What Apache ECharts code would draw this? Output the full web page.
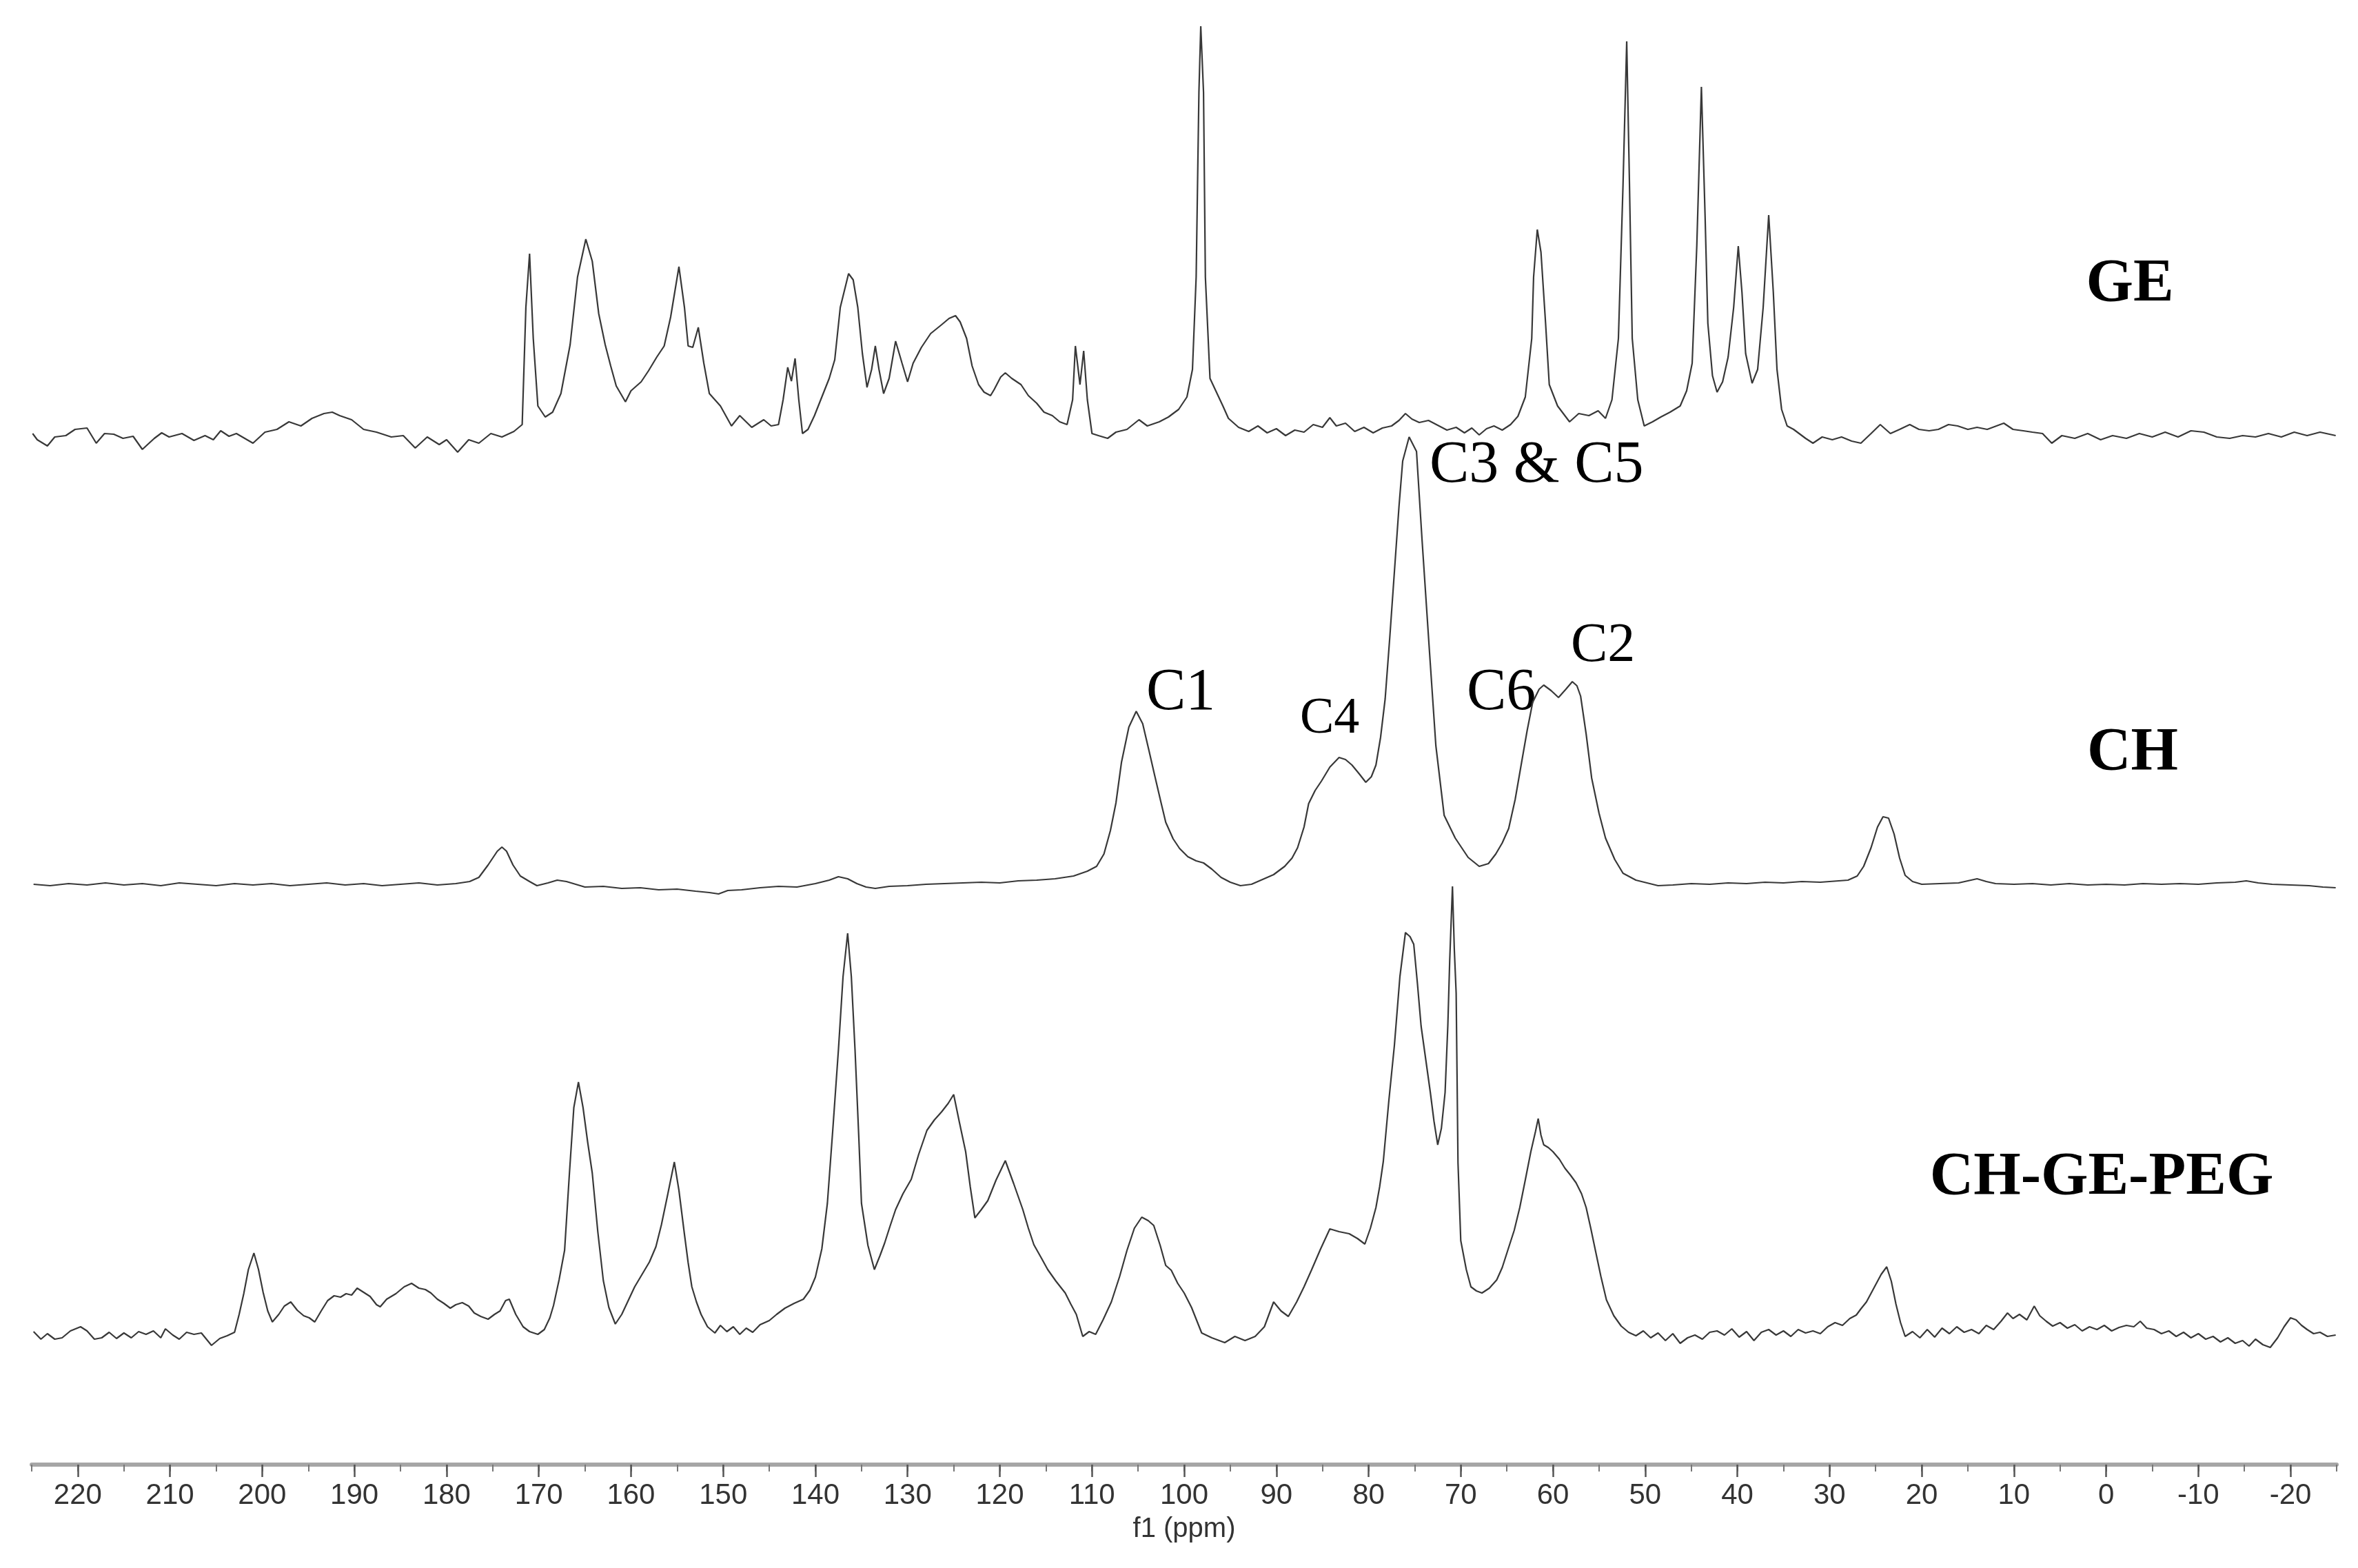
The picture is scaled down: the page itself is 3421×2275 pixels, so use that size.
<!DOCTYPE html>
<html>
<head>
<meta charset="utf-8">
<script src="https://cdn.jsdelivr.net/npm/echarts@6/dist/echarts.min.js"></script>
<style>
html,body{margin:0;padding:0;background:#ffffff;}
#chart{width:3421px;height:2275px;}
</style>
</head>
<body>
<div id="chart"></div>
<script>
// ---- Data: [chemical shift (ppm), intensity] ----
const GE = [[224.9,1],[224.4,-8],[223.3,-17],[222.5,-4],[221.3,-2],[220.3,7],[219.0,9],[218.0,-13],[217.1,1],[216.1,0],[215.1,-6],[214.0,-3],[213.0,-22],[211.7,-6],[210.9,2],[210.1,-4],[208.7,1],[207.4,-9],[206.2,-2],[205.3,-8],[204.5,5],[203.6,-3],[202.8,1],[201.0,-13],[199.7,3],[198.4,7],[197.1,18],[195.8,12],[194.6,23],[193.3,30],[192.4,32],[191.6,27],[190.3,21],[189.0,7],[187.6,3],[186.0,-4],[184.7,-2],[183.4,-20],[182.1,-4],[180.8,-15],[180.0,-8],[178.8,-26],[177.6,-8],[176.5,-13],[175.2,1],[174.0,-4],[172.7,4],[171.8,14],[171.4,184],[171.0,262],[170.6,139],[170.1,41],[169.3,25],[168.5,32],[167.6,59],[166.6,130],[165.8,228],[164.9,283],[164.2,251],[163.5,175],[162.8,130],[162.2,99],[161.6,70],[160.6,47],[160.0,63],[158.9,76],[158.1,92],[157.2,112],[156.4,128],[155.7,170],[154.8,243],[154.2,184],[153.8,128],[153.3,126],[152.7,155],[152.1,103],[151.5,59],[150.3,41],[149.1,12],[148.2,27],[146.9,10],[145.6,21],[144.8,12],[144.0,14],[143.5,50],[143.0,97],[142.6,77],[142.2,110],[141.8,50],[141.4,1],[140.8,7],[140.1,27],[139.3,54],[138.5,81],[137.9,108],[137.3,184],[136.4,233],[135.9,224],[135.4,184],[134.9,117],[134.4,68],[133.9,94],[133.5,128],[133.1,94],[132.6,59],[132.0,81],[131.3,135],[130.6,103],[130.0,76],[129.4,103],[128.5,126],[127.5,146],[126.3,159],[125.5,168],[124.8,172],[124.3,163],[123.6,139],[123.0,99],[122.3,72],[121.7,61],[121.0,56],[120.6,65],[119.9,83],[119.4,89],[118.7,81],[117.7,72],[116.9,56],[116.0,45],[115.2,32],[114.3,27],[113.5,18],[112.7,14],[112.1,50],[111.8,128],[111.3,72],[110.9,121],[110.5,50],[110.0,1],[109.3,-2],[108.3,-6],[107.4,3],[106.2,7],[104.9,21],[104.0,12],[102.7,18],[101.7,25],[100.6,36],[99.7,54],[99.1,94],[98.7,228],[98.4,496],[98.2,592],[97.9,496],[97.7,228],[97.2,81],[95.8,41],[95.2,23],[94.1,10],[93.0,4],[92.0,12],[91.0,2],[90.0,8],[89.0,-2],[88.0,6],[87.0,3],[86.0,14],[85.0,10],[84.2,24],[83.5,12],[82.5,16],[81.5,4],[80.5,10],[79.5,2],[78.5,9],[77.5,12],[76.7,20],[76.0,30],[75.3,22],[74.5,17],[73.5,20],[72.5,13],[71.5,6],[70.5,10],[69.6,2],[68.8,9],[68.0,-1],[67.2,8],[66.4,12],[65.5,6],[64.6,14],[63.8,26],[63.0,54],[62.3,139],[62.1,228],[61.7,297],[61.3,264],[60.8,161],[60.4,72],[59.5,41],[58.2,18],[57.2,30],[56.1,27],[55.1,34],[54.3,23],[53.6,50],[52.9,139],[52.4,362],[52.0,570],[51.7,362],[51.4,139],[50.8,50],[50.1,12],[49.2,18],[48.3,25],[47.3,32],[46.2,41],[45.5,63],[44.9,103],[44.4,273],[43.9,504],[43.5,317],[43.2,161],[42.7,85],[42.2,61],[41.6,76],[41.0,112],[40.4,184],[39.9,273],[39.5,206],[39.1,117],[38.4,74],[37.8,94],[37.2,184],[36.6,318],[36.1,206],[35.7,94],[35.2,36],[34.6,12],[33.9,7],[33.3,1],[32.6,-6],[31.8,-13],[30.8,-4],[29.7,-8],[28.7,-4],[27.6,-10],[26.6,-13],[25.5,1],[24.5,14],[23.4,1],[22.4,7],[21.3,14],[20.3,7],[19.2,5],[18.2,7],[17.1,14],[16.1,12],[15.0,7],[14.0,10],[12.9,7],[11.1,16],[10.1,7],[9.0,5],[8.0,3],[6.9,1],[5.9,-13],[4.8,-2],[3.4,-6],[2.0,1],[0.6,-8],[-0.7,-2],[-2.2,-6],[-3.6,1],[-5.0,-4],[-6.4,3],[-7.8,-4],[-9.2,5],[-10.6,3],[-12.0,-4],[-13.4,-6],[-14.8,-2],[-16.2,-4],[-17.6,1],[-19.0,-4],[-20.4,3],[-21.8,-2],[-23.2,3],[-24.9,-2]];

const CH = [[224.8,2],[223,0],[221,3],[219,1],[217,4],[215,1],[213,3],[211,0],[209,4],[207,2],[205,0],[203,3],[201,1],[199,3],[197,0],[195,2],[193,4],[191,1],[189,3],[187,0],[185,2],[183,4],[181,1],[179,3],[177.5,6],[176.5,12],[175.5,30],[174.5,50],[174.0,56],[173.5,50],[172.8,30],[172.0,14],[171.0,6],[170.2,0],[169,4],[168,8],[167,6],[166,2],[165,-2],[163,-1],[161,-4],[159,-3],[157,-6],[155,-5],[153,-8],[151.5,-10],[150.5,-12],[149.5,-7],[148,-6],[146,-3],[144,-1],[142,-2],[140,3],[138.5,8],[137.5,13],[136.5,10],[135.5,3],[134.5,-2],[133.5,-4],[132,-1],[130,0],[128,2],[126,3],[124,4],[122,5],[120,4],[118,7],[116,8],[114,10],[112,14],[110.5,21],[109.5,28],[108.7,46],[108.0,80],[107.4,120],[106.8,179],[106.0,230],[105.2,253],[104.5,235],[103.8,195],[103.2,160],[102.5,120],[102.0,92],[101.2,68],[100.5,54],[99.6,42],[98.7,36],[97.9,33],[97.0,24],[96.0,12],[95.0,5],[93.9,0],[92.7,2],[91.5,9],[90.3,16],[89.1,28],[88.3,40],[87.7,55],[87.0,85],[86.5,119],[85.8,138],[85.1,152],[84.2,172],[83.2,186],[82.5,183],[81.8,175],[81.0,162],[80.3,150],[79.7,158],[79.2,175],[78.7,215],[78.2,271],[77.7,360],[77.2,455],[76.7,550],[76.3,616],[75.6,651],[74.8,630],[74.2,502],[73.4,341],[72.7,203],[71.8,102],[70.6,69],[69.2,41],[68.0,28],[67.0,32],[66.2,46],[65.5,62],[64.8,83],[64.1,125],[63.4,179],[62.8,225],[62.2,266],[61.5,285],[61.0,291],[60.2,283],[59.4,273],[58.6,285],[57.9,296],[57.4,290],[57.0,275],[56.4,220],[55.8,156],[55.0,105],[54.3,69],[53.3,38],[52.4,18],[51.0,8],[49.5,3],[48.6,0],[47,1],[45,3],[43,2],[41,4],[39,3],[37,5],[35,4],[33,6],[31,5],[29,7],[28,8],[27,14],[26.3,28],[25.5,55],[24.8,85],[24.2,100],[23.6,98],[23.0,75],[22.4,40],[21.8,15],[21.0,6],[20,2],[18,3],[16,4],[15,7],[14,10],[13,6],[12,3],[10,2],[8,3],[6,1],[4,3],[2,1],[0,2],[-2,1],[-4,3],[-6,2],[-8,3],[-10,2],[-12,4],[-14,5],[-15.2,7],[-16.5,4],[-18,2],[-20,1],[-22,0],[-23.5,-2],[-24.9,-3]];

const CH_GE_PEG = [[224.8,5],[224.0,-6],[223.3,2],[222.5,-6],[221.7,-4],[220.8,6],[219.7,12],[219.0,6],[218.2,-6],[217.4,-4],[216.6,4],[215.8,-5],[215.0,3],[214.2,-4],[213.4,5],[212.6,1],[211.8,6],[211.0,-4],[210.5,9],[209.7,0],[209.0,-6],[208.2,4],[207.4,1],[206.6,3],[205.5,-15],[204.6,-5],[203.8,-1],[203.0,4],[202.5,30],[202.0,60],[201.5,95],[200.9,119],[200.4,95],[199.9,62],[199.4,35],[198.9,19],[198.2,30],[197.6,42],[196.9,48],[196.2,36],[195.5,28],[194.9,25],[194.3,19],[193.6,35],[192.9,50],[192.2,57],[191.5,55],[190.9,60],[190.3,58],[189.7,68],[189.0,62],[188.3,56],[187.6,44],[187.2,41],[186.5,52],[185.5,60],[184.6,70],[183.8,75],[183.0,68],[182.3,66],[181.7,61],[181.0,52],[180.3,46],[179.6,39],[179.0,44],[178.3,47],[177.6,42],[177.0,32],[176.3,27],[175.5,23],[174.8,30],[174.2,35],[173.6,50],[173.2,52],[172.5,30],[171.7,12],[171.0,5],[170.1,1],[169.4,8],[168.8,25],[168.4,43],[167.8,80],[167.2,123],[166.7,230],[166.2,330],[165.7,367],[165.2,330],[164.7,280],[164.2,235],[163.6,150],[163.0,79],[162.4,40],[161.7,16],[161.0,30],[160.3,50],[159.6,70],[158.8,88],[158.0,106],[157.3,128],[156.7,160],[156.0,205],[155.3,251],[154.8,210],[154.2,146],[153.8,105],[153.4,70],[152.9,48],[152.4,30],[151.7,12],[150.9,3],[150.3,14],[149.6,5],[148.9,12],[148.2,1],[147.5,10],[146.8,4],[146.0,15],[145.0,21],[144.2,30],[143.3,39],[142.3,46],[141.3,52],[140.6,65],[140.0,84],[139.3,125],[138.7,191],[138.1,300],[137.5,414],[137.0,520],[136.5,583],[136.1,520],[135.7,414],[135.3,290],[135.0,191],[134.3,130],[133.6,95],[133.0,115],[132.5,133],[131.9,158],[131.3,182],[130.5,205],[129.6,226],[128.8,262],[127.9,297],[127.1,312],[126.3,324],[125.6,336],[125.0,349],[124.4,310],[123.7,266],[123.2,215],[122.7,170],[122.0,182],[121.3,195],[120.4,225],[119.4,253],[118.5,220],[117.5,182],[116.9,155],[116.3,131],[115.5,112],[114.8,95],[113.9,78],[112.9,61],[112.3,45],[111.7,30],[111.0,-2],[110.3,5],[109.6,1],[108.8,22],[107.9,48],[107.0,85],[106.2,123],[105.4,155],[104.6,171],[103.9,166],[103.3,159],[102.6,130],[102.0,101],[101.4,94],[100.7,75],[100.0,61],[99.2,40],[98.1,3],[97.0,-4],[95.6,-11],[94.5,-2],[93.4,-8],[92.3,-2],[91.3,12],[90.3,48],[89.5,35],[88.7,27],[87.8,48],[87.0,70],[86.2,94],[85.2,125],[84.2,154],[83.2,150],[82.1,147],[81.2,140],[80.4,132],[79.8,155],[79.2,185],[78.8,215],[78.4,252],[77.8,340],[77.2,420],[76.6,520],[76.0,584],[75.5,578],[75.1,567],[74.7,510],[74.3,448],[73.8,400],[73.3,352],[72.9,310],[72.5,276],[72.1,300],[71.7,352],[71.4,450],[71.2,543],[70.9,651],[70.7,560],[70.5,496],[70.3,250],[70.0,137],[69.4,95],[68.9,70],[68.3,64],[67.7,61],[66.9,68],[66.1,80],[65.5,98],[64.9,123],[64.2,152],[63.6,185],[63.0,225],[62.4,266],[61.9,295],[61.6,314],[61.3,290],[61.0,276],[60.5,272],[60.0,266],[59.3,255],[58.7,242],[58.1,232],[57.5,221],[56.9,205],[56.4,185],[55.9,155],[55.4,123],[54.8,85],[54.2,51],[53.4,28],[52.6,13],[51.8,4],[51.0,-1],[50.2,6],[49.4,-4],[48.6,3],[47.8,-8],[47.0,2],[46.2,-12],[45.4,-4],[44.6,0],[43.8,-6],[43.0,4],[42.2,6],[41.4,0],[40.6,9],[39.8,-3],[39.0,5],[38.2,-8],[37.4,4],[36.6,8],[35.8,0],[35.0,6],[34.2,-2],[33.4,8],[32.6,3],[31.8,6],[31.0,2],[30.2,12],[29.4,18],[28.6,14],[27.8,24],[27.1,29],[26.6,38],[26.0,48],[25.2,68],[24.4,88],[23.8,99],[23.3,78],[22.8,45],[22.3,18],[21.8,-2],[21.0,5],[20.2,-4],[19.4,8],[18.6,-3],[17.8,10],[17.0,2],[16.2,12],[15.4,4],[14.6,8],[13.8,2],[13.0,14],[12.2,8],[11.4,20],[10.7,32],[10.1,24],[9.4,30],[8.6,22],[7.8,42],[7.2,28],[6.5,20],[5.8,13],[5.0,18],[4.2,10],[3.4,15],[2.6,6],[1.8,12],[1.0,8],[0.2,14],[-0.6,6],[-1.4,11],[-2.2,14],[-3.0,12],[-3.7,20],[-4.4,10],[-5.2,8],[-6.0,2],[-6.8,6],[-7.6,-2],[-8.4,4],[-9.2,-4],[-10.0,2],[-10.8,-6],[-11.6,-2],[-12.4,-10],[-13.2,-4],[-14.0,-12],[-14.8,-8],[-15.5,-16],[-16.2,-6],[-17.0,-14],[-17.8,-18],[-18.6,-4],[-19.3,12],[-20.0,25],[-20.6,22],[-21.2,14],[-21.8,8],[-22.5,2],[-23.2,4],[-24.0,-2],[-24.9,0]];

const TRACE_NAMES = ['GE', 'CH', 'CH-GE-PEG'];
const PEAK_LABELS = ['C1', 'C4', 'C3 & C5', 'C6', 'C2'];
const AXIS_NAME = 'f1 (ppm)';
const PPM_MIN = -25, PPM_MAX = 225;        // full axis extent
const LABEL_MIN = -20, LABEL_MAX = 220;    // labelled tick range

// ---- Layout ----
const W = 3421, H = 2275;
const AXIS_Y_BOTTOM = 150;           // distance of axis line from bottom
const LEFT = 46, RIGHT = 31;         // pixel extent of 225 .. -25 ppm
const PX_PER_PPM = (W - LEFT - RIGHT) / (PPM_MAX - PPM_MIN);

const chart = echarts.init(document.getElementById('chart'), null, {renderer: 'canvas'});
const lineColor = '#383838';
const serif = '"Liberation Serif", "Times New Roman", serif';
const sans = '"Liberation Sans", Arial, sans-serif';

function hiddenX(gi) {
  return {gridIndex: gi, type: 'value', min: PPM_MIN, max: PPM_MAX, inverse: true, show: false};
}
function hiddenY(gi, mn, mx) {
  return {gridIndex: gi, type: 'value', min: mn, max: mx, show: false};
}
function trace(data, i) {
  return {type: 'line', xAxisIndex: i, yAxisIndex: i, data: data, showSymbol: false, symbol: 'none',
          smooth: false, clip: false, silent: true,
          lineStyle: {color: lineColor, width: 2.2}, animation: false};
}

const option = {
  backgroundColor: '#ffffff',
  animation: false,
  grid: [
    {left: LEFT, right: RIGHT, top: 0, height: 670},
    {left: LEFT, right: RIGHT, top: 585, height: 740},
    {left: LEFT, right: RIGHT, top: 1237, bottom: AXIS_Y_BOTTOM},
    {left: LEFT + 5 * PX_PER_PPM, right: RIGHT + 5 * PX_PER_PPM, top: 1900, bottom: AXIS_Y_BOTTOM}
  ],
  xAxis: [
    hiddenX(0),
    hiddenX(1),
    {gridIndex: 2, type: 'value', min: PPM_MIN, max: PPM_MAX, interval: 5, inverse: true,
     axisLine: {show: true, onZero: false, lineStyle: {color: '#a6a6a6', width: 6}},
     axisTick: {show: true, length: 10, lineStyle: {color: '#777', width: 2}},
     axisLabel: {show: false}, splitLine: {show: false}},
    {gridIndex: 3, type: 'value', min: LABEL_MIN, max: LABEL_MAX, interval: 10, inverse: true,
     axisLine: {show: false, onZero: false},
     axisTick: {show: true, length: 18, lineStyle: {color: '#555', width: 2.5}},
     axisLabel: {show: true, fontSize: 42, color: '#333', fontFamily: sans, margin: 24},
     splitLine: {show: false},
     name: AXIS_NAME, nameLocation: 'middle', nameGap: 74,
     nameTextStyle: {fontSize: 40, color: '#333', fontFamily: sans}}
  ],
  yAxis: [
    hiddenY(0, -40, 630),
    hiddenY(1, -40, 700),
    hiddenY(2, -188, 700),
    hiddenY(3, 0, 1)
  ],
  series: [trace(GE, 0), trace(CH, 1), trace(CH_GE_PEG, 2)],
  graphic: [
    {type: 'text', x: 3090, y: 413, style: {text: TRACE_NAMES[0], font: 'bold 88px ' + serif, fill: '#000', align: 'center', verticalAlign: 'middle', textAlign: 'center', textVerticalAlign: 'middle'}},
    {type: 'text', x: 3094, y: 1093, style: {text: TRACE_NAMES[1], font: 'bold 88px ' + serif, fill: '#000', align: 'center', verticalAlign: 'middle', textAlign: 'center', textVerticalAlign: 'middle'}},
    {type: 'text', x: 3049, y: 1709, style: {text: TRACE_NAMES[2], font: 'bold 88px ' + serif, fill: '#000', align: 'center', verticalAlign: 'middle', textAlign: 'center', textVerticalAlign: 'middle'}},
    {type: 'text', x: 1663, y: 1006, style: {text: PEAK_LABELS[0], font: '86px ' + serif, fill: '#000', align: 'left', verticalAlign: 'middle', textAlign: 'left', textVerticalAlign: 'middle'}},
    {type: 'text', x: 1886, y: 1044, style: {text: PEAK_LABELS[1], font: '74px ' + serif, fill: '#000', align: 'left', verticalAlign: 'middle', textAlign: 'left', textVerticalAlign: 'middle'}},
    {type: 'text', x: 2074, y: 676, style: {text: PEAK_LABELS[2], font: '86px ' + serif, fill: '#000', align: 'left', verticalAlign: 'middle', textAlign: 'left', textVerticalAlign: 'middle'}},
    {type: 'text', x: 2128, y: 1006, style: {text: PEAK_LABELS[3], font: '86px ' + serif, fill: '#000', align: 'left', verticalAlign: 'middle', textAlign: 'left', textVerticalAlign: 'middle'}},
    {type: 'text', x: 2279, y: 938, style: {text: PEAK_LABELS[4], font: '80px ' + serif, fill: '#000', align: 'left', verticalAlign: 'middle', textAlign: 'left', textVerticalAlign: 'middle'}}
  ]
};
chart.setOption(option);
</script>
</body>
</html>
